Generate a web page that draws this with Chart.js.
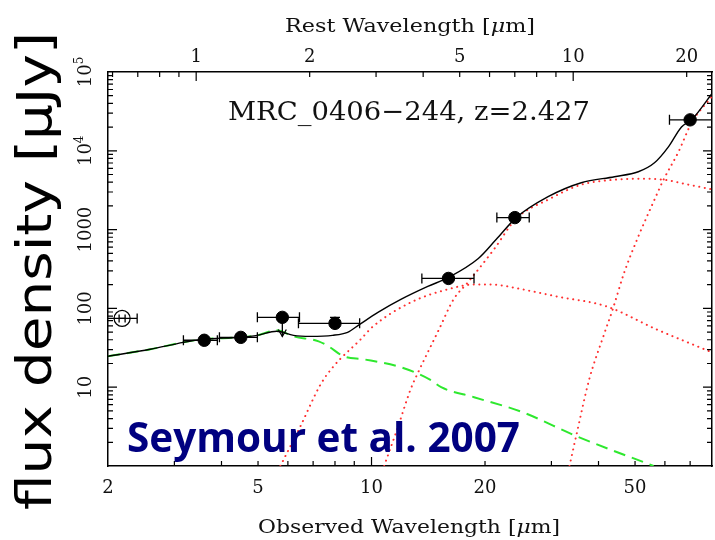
<!DOCTYPE html>
<html lang="en">
<head>
<meta charset="UTF-8">
<title>MRC 0406-244 SED</title>
<script src="https://cdn.jsdelivr.net/npm/chart.js"></script>
<style>
  html, body { margin: 0; padding: 0; background: #fff; }
  canvas { display: block; }
</style>
</head>
<body>
<canvas id="sed" width="715" height="540"></canvas>
<script>
// redshift used for the rest-frame axis on top
const redshift = 2.427;

// photometry: observed wavelength [um], flux density [uJy], filter extent
const photWave   = [3.6, 4.5, 5.8, 8.0, 16, 24, 70];
const photFlux   = [39.4, 42.9, 77, 64.6, 240, 1420, 24700];
const photWaveLo = [3.17, 3.95, 4.98, 6.40, 13.6, 21.5, 61.7];
const photWaveHi = [3.90, 4.98, 6.44, 9.30, 18.7, 26.2, 95];
const photFluxLo = [null, null, null, 54, null, null, null];
const photFluxHi = [null, null, null, 76.9, null, null, null];
const photLimitTip = [null, null, 44, null, null, null, null]; // 5.8um is an upper limit

// K band point (open symbol)
const kWave = [2.18];
const kFlux = [74.7];
const kWaveLo = [1.98];
const kWaveHi = [2.39];

// model components
const stellarWave = [2.0, 2.59, 3.17, 3.56, 4.49, 4.98, 5.60, 6.21, 7.24, 7.69, 8.43, 9.53, 11.96, 14.37, 15.3, 18.7, 25.2, 34.9, 56.0];
const stellarFlux = [24.7, 30.3, 37.1, 40.5, 43.0, 45.5, 52.7, 44.2, 38.2, 33.0, 24.7, 22.6, 17.9, 12.3, 10.0, 7.47, 4.8, 2.40, 1.0];

const hotWave = [5.73, 6.48, 7.33, 7.93, 9.36, 10.1, 12.7, 15.9, 18.7, 20.7, 25.2, 30.9, 42.0, 57.0, 78.8];
const hotFlux = [1.0, 3.21, 10.9, 18.4, 40.5, 59.2, 119, 174, 201, 201, 174, 142, 106, 54.2, 28.5];

const warmWave = [10.8, 11.7, 12.7, 13.3, 14.1, 15.1, 16.5, 18.0, 21.1, 24.2, 29.4, 36.0, 44.1, 51.0, 59.5, 69.3, 80.8];
const warmFlux = [1.0, 2.94, 9.43, 15.5, 27.7, 54.2, 130, 213, 558, 1377, 2398, 3715, 4295, 4424, 4295, 3715, 3206];

const coldWave = [33.5, 34.9, 37.8, 41.2, 43.8, 46.6, 51.0, 56.3, 59.5, 65.2, 70.6, 79.8];
const coldFlux = [1.0, 2.40, 12.6, 44.2, 103, 269, 815, 2398, 4295, 9710, 22600, 48300];

const totalWave = [2.0, 2.59, 3.17, 3.56, 4.49, 4.98, 5.60, 6.21, 6.89, 7.88, 8.64, 9.30, 10.4, 11.96, 14.1, 16.0, 19.2, 21.4, 24.2, 29.4, 36.0, 44.1, 51.0, 56.3, 61.3, 66.4, 70.6, 81.3];
const totalFlux = [24.7, 30.3, 37.1, 40.5, 43.0, 45.5, 51.4, 45.5, 44.2, 45.5, 49.7, 62.7, 89.0, 130, 190, 247, 430, 747, 1419, 2617, 3936, 4690, 5420, 7050, 11240, 20100, 24700, 59200];

// axis labels
const obsTicks = [2, 5, 10, 20, 50];
const restTicks = [1, 2, 5, 10, 20];
const fluxTicks = [10, 100, 1000, 1e4, 1e5];
const fluxTickText = ['10', '100', '1000', '10^4', '10^5'];

const obsMin = 2, obsMax = 80;

function pairs(xs, ys) {
  return xs.map((x, i) => ({ x: x, y: ys[i] }));
}

function logTicks(min, max) {
  const out = [];
  for (let e = Math.floor(Math.log10(min)); e <= Math.ceil(Math.log10(max)); e++) {
    for (let d = 1; d <= 9; d++) {
      const v = d * Math.pow(10, e);
      if (v >= min * 1.001 && v <= max * 0.999) out.push({ v: v, major: d === 1 });
    }
  }
  return out;
}

// draws text split in runs of different fonts, stretched to a given width
function drawRuns(ctx, runs, x, y, width) {
  let total = 0;
  runs.forEach(r => { ctx.font = r[1]; total += ctx.measureText(r[0]).width; });
  const k = width ? width / total : 1;
  ctx.save();
  ctx.translate(x, y);
  ctx.scale(k, 1);
  let cx = 0;
  runs.forEach(r => {
    ctx.font = r[1];
    ctx.fillText(r[0], cx, r[2] || 0);
    cx += ctx.measureText(r[0]).width;
  });
  ctx.restore();
}

const serif = '"DejaVu Serif", serif';

const frame = {
  id: 'frame',
  afterDatasetsDraw(chart) {
    const { ctx, chartArea: a, scales } = chart;
    ctx.save();

    // error bars and limit arrow
    ctx.beginPath();
    ctx.rect(a.left, a.top, a.right - a.left, a.bottom - a.top);
    ctx.clip();
    ctx.strokeStyle = '#000';
    ctx.fillStyle = '#000';
    ctx.lineWidth = 1.3;
    const xs = scales.x, ys = scales.y;
    function xbar(w, lo, hi, f) {
      const py = ys.getPixelForValue(f);
      const x0 = xs.getPixelForValue(lo), x1 = xs.getPixelForValue(hi);
      ctx.beginPath();
      ctx.moveTo(x0, py); ctx.lineTo(x1, py);
      ctx.moveTo(x0, py - 5); ctx.lineTo(x0, py + 5);
      ctx.moveTo(x1, py - 5); ctx.lineTo(x1, py + 5);
      ctx.stroke();
    }
    photWave.forEach((w, i) => {
      xbar(w, photWaveLo[i], photWaveHi[i], photFlux[i]);
      const px = xs.getPixelForValue(w);
      if (photFluxHi[i] !== null) {
        const y0 = ys.getPixelForValue(photFluxLo[i]), y1 = ys.getPixelForValue(photFluxHi[i]);
        ctx.beginPath();
        ctx.moveTo(px, y0); ctx.lineTo(px, y1);
        ctx.moveTo(px - 5, y1); ctx.lineTo(px + 5, y1);
        ctx.stroke();
      }
      if (photLimitTip[i] !== null) {
        const y0 = ys.getPixelForValue(photFlux[i]), y1 = ys.getPixelForValue(photLimitTip[i]);
        ctx.beginPath();
        ctx.moveTo(px, y0); ctx.lineTo(px, y1);
        ctx.stroke();
        ctx.beginPath();
        ctx.moveTo(px - 4, y1 - 7); ctx.lineTo(px, y1); ctx.lineTo(px + 4, y1 - 7);
        ctx.stroke();
      }
    });
    kWave.forEach((w, i) => {
      xbar(w, kWaveLo[i], kWaveHi[i], kFlux[i]);
      const px = xs.getPixelForValue(w), py = ys.getPixelForValue(kFlux[i]);
      ctx.beginPath();
      ctx.moveTo(px - 3, py); ctx.lineTo(px + 3, py);
      ctx.moveTo(px - 3, py - 4); ctx.lineTo(px - 3, py + 4);
      ctx.moveTo(px + 3, py - 4); ctx.lineTo(px + 3, py + 4);
      ctx.stroke();
    });
    ctx.restore();

    // inward tick marks on all four sides
    ctx.save();
    ctx.strokeStyle = '#000';
    ctx.lineWidth = 1.2;
    ctx.beginPath();
    logTicks(xs.min, xs.max).forEach(t => {
      const px = xs.getPixelForValue(t.v);
      ctx.moveTo(px, a.bottom); ctx.lineTo(px, a.bottom - (t.major ? 9 : 5));
    });
    const xr = scales.xRest;
    logTicks(xr.min, xr.max).forEach(t => {
      const px = xr.getPixelForValue(t.v);
      ctx.moveTo(px, a.top); ctx.lineTo(px, a.top + (t.major ? 9 : 5));
    });
    logTicks(ys.min, ys.max).forEach(t => {
      const py = ys.getPixelForValue(t.v);
      const len = t.major ? 9 : 5;
      ctx.moveTo(a.left, py); ctx.lineTo(a.left + len, py);
      ctx.moveTo(a.right, py); ctx.lineTo(a.right - len, py);
    });
    ctx.stroke();

    // tick labels
    ctx.fillStyle = '#111';
    ctx.textAlign = 'center';
    ctx.textBaseline = 'alphabetic';
    ctx.font = '18px ' + serif;
    obsTicks.forEach(v => ctx.fillText(String(v), xs.getPixelForValue(v), 493));
    restTicks.forEach(v => ctx.fillText(String(v), xr.getPixelForValue(v), 62));
    ctx.textAlign = 'left';
    fluxTicks.forEach((v, i) => {
      const py = ys.getPixelForValue(v);
      const parts = fluxTickText[i].split('^');
      const runs = [[parts[0], '18px ' + serif, 0]];
      if (parts[1]) runs.push([parts[1], '12px ' + serif, -8]);
      let w = 0;
      runs.forEach(r => { ctx.font = r[1]; w += ctx.measureText(r[0]).width; });
      ctx.save();
      ctx.translate(91, py);
      ctx.rotate(-Math.PI / 2);
      drawRuns(ctx, runs, -w / 2, 0);
      ctx.restore();
    });

    // axis titles
    drawRuns(ctx, [['Rest Wavelength [', '19px ' + serif], ['\u03bc', 'italic 19px ' + serif], ['m]', '19px ' + serif]], 285, 32, 250);
    drawRuns(ctx, [['Observed Wavelength [', '19px ' + serif], ['\u03bc', 'italic 19px ' + serif], ['m]', '19px ' + serif]], 258, 533, 302);

    // source name
    drawRuns(ctx, [['MRC_0406\u2212244, z=2.427', '26px ' + serif]], 228, 120, 362);

    // big y label
    ctx.fillStyle = '#000';
    ctx.save();
    ctx.translate(51, 510);
    ctx.rotate(-Math.PI / 2);
    drawRuns(ctx, [['flux density [\u03bcJy]', '48px "DejaVu Sans", sans-serif']], 0, 0, 478);
    ctx.restore();

    // reference
    ctx.fillStyle = '#000080';
    drawRuns(ctx, [['Seymour et al. 2007', 'bold 42px "Open Sans", sans-serif']], 127, 452, 393);
    ctx.restore();
  }
};

const dotted = { borderColor: '#ff3030', borderWidth: 2, borderDash: [0.1, 5.5], borderCapStyle: 'round' };

new Chart(document.getElementById('sed'), {
  type: 'scatter',
  data: {
    datasets: [
      {
        label: 'photometry',
        data: pairs(photWave, photFlux),
        showLine: false,
        pointRadius: 6.2,
        pointBackgroundColor: '#000',
        pointBorderColor: '#000',
        pointBorderWidth: 1
      },
      {
        label: 'K band',
        data: pairs(kWave, kFlux),
        showLine: false,
        pointRadius: 8,
        pointBackgroundColor: 'rgba(0,0,0,0)',
        pointBorderColor: '#000',
        pointBorderWidth: 1.2
      },
      {
        label: 'total',
        data: pairs(totalWave, totalFlux),
        showLine: true,
        pointRadius: 0,
        borderColor: '#000',
        borderWidth: 1.4,
        cubicInterpolationMode: 'monotone'
      },
      {
        label: 'stars',
        data: pairs(stellarWave, stellarFlux),
        showLine: true,
        pointRadius: 0,
        borderColor: '#2ee82e',
        borderWidth: 2,
        borderDash: [12, 7],
        cubicInterpolationMode: 'monotone'
      },
      Object.assign({ label: 'hot dust', data: pairs(hotWave, hotFlux), showLine: true, pointRadius: 0, cubicInterpolationMode: 'monotone' }, dotted),
      Object.assign({ label: 'warm dust', data: pairs(warmWave, warmFlux), showLine: true, pointRadius: 0, cubicInterpolationMode: 'monotone' }, dotted),
      Object.assign({ label: 'cold dust', data: pairs(coldWave, coldFlux), showLine: true, pointRadius: 0, cubicInterpolationMode: 'monotone' }, dotted)
    ]
  },
  options: {
    responsive: false,
    animation: false,
    devicePixelRatio: 1,
    layout: { padding: 0, autoPadding: false },
    plugins: { legend: { display: false }, tooltip: { enabled: false } },
    scales: {
      x: {
        type: 'logarithmic', position: 'bottom', min: obsMin, max: obsMax,
        ticks: { display: false }, grid: { display: false },
        border: { color: '#000', width: 1.5 },
        afterFit: s => { s.height = 74; }
      },
      y: {
        type: 'logarithmic', position: 'left', min: 1, max: 1e5,
        ticks: { display: false }, grid: { display: false },
        border: { color: '#000', width: 1.5 },
        afterFit: s => { s.width = 108; }
      },
      xRest: {
        type: 'logarithmic', axis: 'x', position: 'top',
        min: obsMin / (1 + redshift), max: obsMax / (1 + redshift),
        ticks: { display: false }, grid: { display: false },
        border: { color: '#000', width: 1.5 },
        afterFit: s => { s.height = 72; }
      },
      yRight: {
        type: 'logarithmic', axis: 'y', position: 'right', min: 1, max: 1e5,
        ticks: { display: false }, grid: { display: false },
        border: { color: '#000', width: 1.5 },
        afterFit: s => { s.width = 3; }
      }
    }
  },
  plugins: [frame]
});
</script>
</body>
</html>
